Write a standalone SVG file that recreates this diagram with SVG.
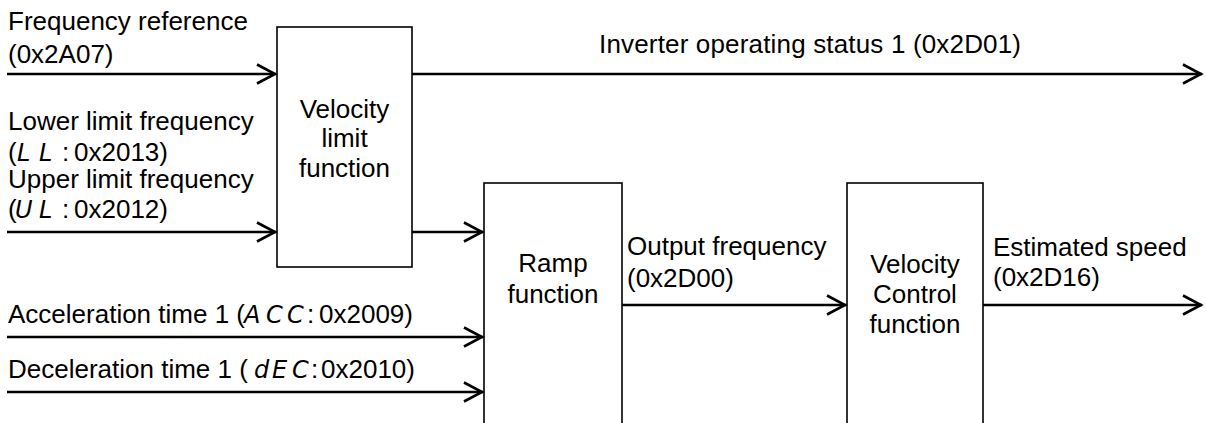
<svg xmlns="http://www.w3.org/2000/svg" width="1206" height="423" viewBox="0 0 1206 423">
<style>
text{font-family:"Liberation Sans",Arial,sans-serif;font-size:26px;fill:#000}
.c{text-anchor:middle}
.seg{font-family:"DejaVu Sans","Liberation Sans",sans-serif;font-style:italic;font-weight:200;font-size:24px}
.box{fill:#fff;stroke:#000;stroke-width:1.6}
.wire{fill:none;stroke:#000;stroke-width:2.6;marker-end:url(#arr)}
</style>
<defs>
<marker id="arr" markerUnits="userSpaceOnUse" markerWidth="40" markerHeight="40" viewBox="-30 -20 40 40" refX="0" refY="0" orient="auto" overflow="visible">
<path d="M-19,-9.5 L-1,0 L-19,9.5" fill="none" stroke="#000" stroke-width="2.6" stroke-linejoin="miter"/>
</marker>
</defs>
<rect width="1206" height="423" fill="#fff"/>
<g id="velocity-limit">
<rect class="box" x="277" y="27" width="135" height="240"/>
<text class="c" x="344.5" y="117.5">Velocity</text>
<text class="c" x="344.5" y="147">limit</text>
<text class="c" x="344.5" y="177">function</text>
</g>
<g id="ramp">
<rect class="box" x="484" y="183" width="138" height="260"/>
<text class="c" x="553" y="272">Ramp</text>
<text class="c" x="553" y="303">function</text>
</g>
<g id="velocity-control">
<rect class="box" x="847" y="183" width="136" height="260"/>
<text class="c" x="915" y="273">Velocity</text>
<text class="c" x="915" y="303">Control</text>
<text class="c" x="915" y="333">function</text>
</g>
<g id="connectors">
<path class="wire" d="M7,74 H276"/>
<path class="wire" d="M7,232 H276"/>
<path class="wire" d="M412,74 H1202"/>
<path class="wire" d="M412,232 H483"/>
<path class="wire" d="M7,337 H483"/>
<path class="wire" d="M7,392 H483"/>
<path class="wire" d="M622,305 H846"/>
<path class="wire" d="M983,305 H1202"/>
</g>
<g id="labels">
<text x="8" y="30">Frequency reference</text>
<text x="8" y="63">(0x2A07)</text>
<text x="8" y="130">Lower limit frequency</text>
<text x="8" y="161">(<tspan class="seg" x="17">L</tspan><tspan class="seg" x="39">L</tspan><tspan x="62">:</tspan><tspan x="74">0x2013)</tspan></text>
<text x="8" y="188">Upper limit frequency</text>
<text x="8" y="218">(<tspan class="seg" x="15">U</tspan><tspan class="seg" x="39">L</tspan><tspan x="62">:</tspan><tspan x="74">0x2012)</tspan></text>
<text class="c" x="810" y="53" textLength="422" lengthAdjust="spacing">Inverter operating status 1 (0x2D01)</text>
<text x="8" y="323">Acceleration time 1 (<tspan class="seg" x="244">A</tspan><tspan class="seg" x="266">C</tspan><tspan class="seg" x="287">C</tspan><tspan x="307">:</tspan><tspan x="319">0x2009)</tspan></text>
<text x="8" y="378">Deceleration time 1 (<tspan class="seg" x="254">d</tspan><tspan class="seg" x="272">E</tspan><tspan class="seg" x="292">C</tspan><tspan x="311">:</tspan><tspan x="321">0x2010)</tspan></text>
<text x="627" y="255">Output frequency</text>
<text x="627" y="287">(0x2D00)</text>
<text x="993" y="256">Estimated speed</text>
<text x="993" y="286">(0x2D16)</text>
</g>
</svg>
